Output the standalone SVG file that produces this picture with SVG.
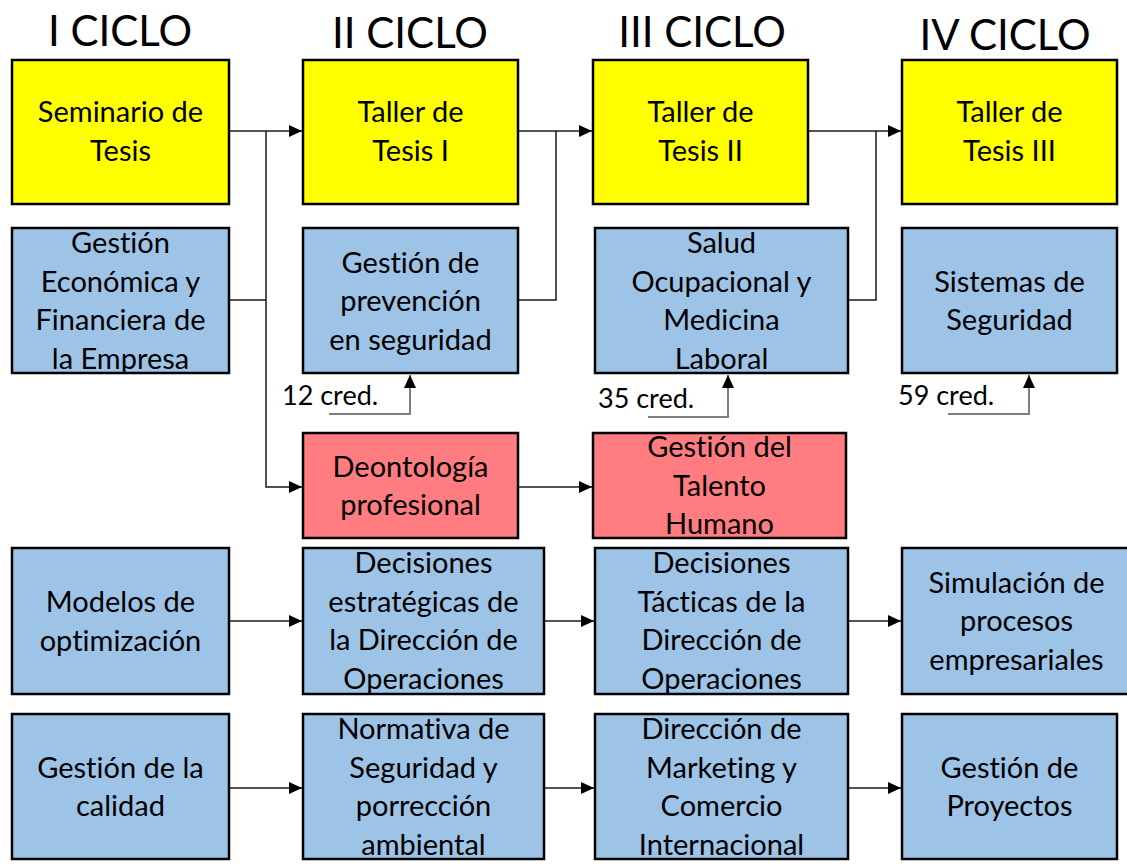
<svg xmlns="http://www.w3.org/2000/svg" width="1127" height="868" viewBox="0 0 1127 868">
<style>
  text { font-variant-ligatures: none; font-feature-settings: "liga" 0, "clig" 0; }
  .title { font-family: "Lato", "Open Sans", sans-serif; font-size: 42px; text-anchor: middle; fill: #000; }
  .lbl { font-family: "Lato", "Open Sans", sans-serif; font-size: 29px; text-anchor: middle; fill: #000; }
  .cred { font-family: "Lato", "Open Sans", sans-serif; font-size: 27px; fill: #000; }
  .y { fill: #FFFF00; stroke: #000; stroke-width: 2.5; }
  .b { fill: #9DC3E6; stroke: #000; stroke-width: 2.5; }
  .r { fill: #FF7C80; stroke: #000; stroke-width: 2.5; }
  .conn { fill: none; stroke: #1a1a1a; stroke-width: 1.5; }
  .credline { fill: none; stroke: #7f7f7f; stroke-width: 2; }
</style>
<defs>
  <marker id="arr" markerUnits="userSpaceOnUse" markerWidth="14" markerHeight="14" viewBox="0 0 14 14" refX="13" refY="7" orient="auto">
    <path d="M0,1 L13,7 L0,13 Z" fill="#000"/>
  </marker>
</defs>
<rect width="1127" height="868" fill="#fff"/>

<g id="titles">
  <text class="title" x="120" y="46">I CICLO</text>
  <text class="title" x="410" y="48">II CICLO</text>
  <text class="title" x="702" y="47">III CICLO</text>
  <text class="title" x="1005" y="50">IV CICLO</text>
</g>

<g id="connectors">
  <path class="conn" d="M229,131 H302" marker-end="url(#arr)"/>
  <path class="conn" d="M229,300 H266"/>
  <path class="conn" d="M266,131 V487 H302" marker-end="url(#arr)"/>
  <path class="conn" d="M518,131 H592" marker-end="url(#arr)"/>
  <path class="conn" d="M518,300 H556 V131"/>
  <path class="conn" d="M808,131 H901" marker-end="url(#arr)"/>
  <path class="conn" d="M848,300 H876 V131"/>
  <path class="conn" d="M518,487 H592" marker-end="url(#arr)"/>
  <path class="credline" d="M329,414 H410 V375" marker-end="url(#arr)"/>
  <path class="credline" d="M648,417 H728 V375" marker-end="url(#arr)"/>
  <path class="credline" d="M948,414 H1029 V375" marker-end="url(#arr)"/>
  <path class="conn" d="M229,621 H302" marker-end="url(#arr)"/>
  <path class="conn" d="M544,621 H594" marker-end="url(#arr)"/>
  <path class="conn" d="M848,621 H901" marker-end="url(#arr)"/>
  <path class="conn" d="M229,788 H302" marker-end="url(#arr)"/>
  <path class="conn" d="M544,788 H594" marker-end="url(#arr)"/>
  <path class="conn" d="M848,788 H901" marker-end="url(#arr)"/>
</g>

<g id="cred-labels">
  <text class="cred" x="282" y="405">12 cred.</text>
  <text class="cred" x="598" y="408">35 cred.</text>
  <text class="cred" x="898" y="405">59 cred.</text>
</g>

<g id="seminario">
  <rect class="y" x="12" y="60" width="217" height="144"/>
  <text class="lbl" x="120.5" y="122">Seminario de</text>
  <text class="lbl" x="120.5" y="160.5">Tesis</text>
</g>
<g id="taller1">
  <rect class="y" x="303" y="60" width="215" height="144"/>
  <text class="lbl" x="410.5" y="122">Taller de</text>
  <text class="lbl" x="410.5" y="160.5">Tesis I</text>
</g>
<g id="taller2">
  <rect class="y" x="593" y="60" width="215" height="144"/>
  <text class="lbl" x="700.5" y="122">Taller de</text>
  <text class="lbl" x="700.5" y="160.5">Tesis II</text>
</g>
<g id="taller3">
  <rect class="y" x="902" y="60" width="215" height="144"/>
  <text class="lbl" x="1009.5" y="122">Taller de</text>
  <text class="lbl" x="1009.5" y="160.5">Tesis III</text>
</g>

<g id="gestion-economica">
  <rect class="b" x="12" y="228" width="217" height="145"/>
  <text class="lbl" x="120.5" y="253">Gestión</text>
  <text class="lbl" x="120.5" y="291.5">Económica y</text>
  <text class="lbl" x="120.5" y="330">Financiera de</text>
  <text class="lbl" x="120.5" y="368.5">la Empresa</text>
</g>
<g id="gestion-prevencion">
  <rect class="b" x="303" y="228" width="215" height="145"/>
  <text class="lbl" x="410.5" y="272.5">Gestión de</text>
  <text class="lbl" x="410.5" y="311">prevención</text>
  <text class="lbl" x="410.5" y="349.5">en seguridad</text>
</g>
<g id="salud">
  <rect class="b" x="595" y="228" width="253" height="145"/>
  <text class="lbl" x="721.5" y="253">Salud</text>
  <text class="lbl" x="721.5" y="291.5">Ocupacional y</text>
  <text class="lbl" x="721.5" y="330">Medicina</text>
  <text class="lbl" x="721.5" y="368.5">Laboral</text>
</g>
<g id="sistemas">
  <rect class="b" x="902" y="228" width="215" height="145"/>
  <text class="lbl" x="1009.5" y="291.5">Sistemas de</text>
  <text class="lbl" x="1009.5" y="330">Seguridad</text>
</g>

<g id="deontologia">
  <rect class="r" x="303" y="433" width="215" height="105"/>
  <text class="lbl" x="410.5" y="476.5">Deontología</text>
  <text class="lbl" x="410.5" y="515">profesional</text>
</g>
<g id="talento">
  <rect class="r" x="593" y="433" width="253" height="105"/>
  <text class="lbl" x="719.5" y="457">Gestión del</text>
  <text class="lbl" x="719.5" y="495.5">Talento</text>
  <text class="lbl" x="719.5" y="534">Humano</text>
</g>

<g id="modelos">
  <rect class="b" x="12" y="548" width="217" height="146"/>
  <text class="lbl" x="120.5" y="612">Modelos de</text>
  <text class="lbl" x="120.5" y="650.5">optimización</text>
</g>
<g id="decisiones-estrategicas">
  <rect class="b" x="303" y="548" width="241" height="146"/>
  <text class="lbl" x="423.5" y="573">Decisiones</text>
  <text class="lbl" x="423.5" y="611.5">estratégicas de</text>
  <text class="lbl" x="423.5" y="650">la Dirección de</text>
  <text class="lbl" x="423.5" y="688.5">Operaciones</text>
</g>
<g id="decisiones-tacticas">
  <rect class="b" x="595" y="548" width="253" height="146"/>
  <text class="lbl" x="721.5" y="573">Decisiones</text>
  <text class="lbl" x="721.5" y="611.5">Tácticas de la</text>
  <text class="lbl" x="721.5" y="650">Dirección de</text>
  <text class="lbl" x="721.5" y="688.5">Operaciones</text>
</g>
<g id="simulacion">
  <rect class="b" x="902" y="548" width="229" height="146"/>
  <text class="lbl" x="1016.5" y="592.5">Simulación de</text>
  <text class="lbl" x="1016.5" y="631">procesos</text>
  <text class="lbl" x="1016.5" y="669.5">empresariales</text>
</g>

<g id="gestion-calidad">
  <rect class="b" x="12" y="714" width="217" height="145"/>
  <text class="lbl" x="120.5" y="777.5">Gestión de la</text>
  <text class="lbl" x="120.5" y="816">calidad</text>
</g>
<g id="normativa">
  <rect class="b" x="303" y="714" width="241" height="145"/>
  <text class="lbl" x="423.5" y="739">Normativa de</text>
  <text class="lbl" x="423.5" y="777.5">Seguridad y</text>
  <text class="lbl" x="423.5" y="816">porrección</text>
  <text class="lbl" x="423.5" y="854.5">ambiental</text>
</g>
<g id="marketing">
  <rect class="b" x="595" y="714" width="253" height="145"/>
  <text class="lbl" x="721.5" y="739">Dirección de</text>
  <text class="lbl" x="721.5" y="777.5">Marketing y</text>
  <text class="lbl" x="721.5" y="816">Comercio</text>
  <text class="lbl" x="721.5" y="854.5">Internacional</text>
</g>
<g id="proyectos">
  <rect class="b" x="902" y="714" width="215" height="145"/>
  <text class="lbl" x="1009.5" y="777.5">Gestión de</text>
  <text class="lbl" x="1009.5" y="816">Proyectos</text>
</g>
</svg>
